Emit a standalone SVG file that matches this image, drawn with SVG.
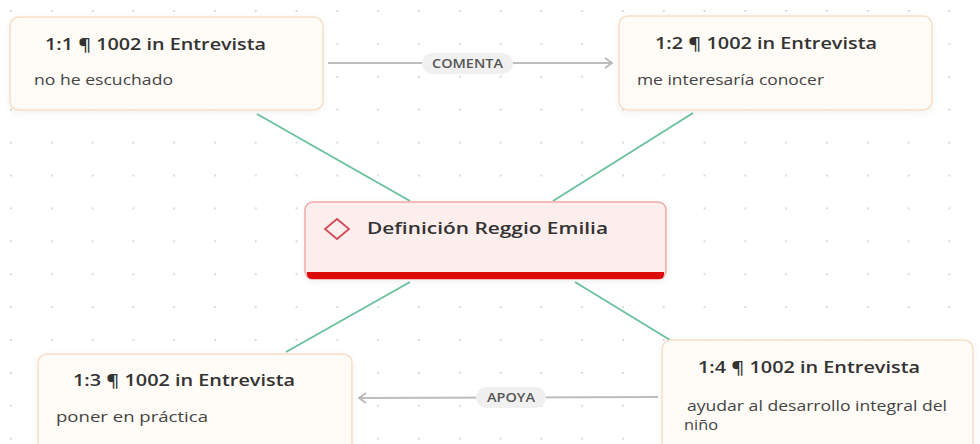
<svg xmlns="http://www.w3.org/2000/svg" width="980" height="444" viewBox="0 0 980 444">
<defs>
<pattern id="dots" x="10" y="10" width="40.8" height="32.9" patternUnits="userSpaceOnUse">
<circle cx="0.8" cy="0.8" r="1.3" fill="#d8d8d8"/>
</pattern>
<marker id="arr" markerWidth="12" markerHeight="12" refX="9" refY="6" orient="auto" markerUnits="userSpaceOnUse">
<path d="M2,1 L9,6 L2,11" fill="none" stroke="#b8b8b8" stroke-width="1.8"/>
</marker>
<filter id="sh" x="-10%" y="-20%" width="120%" height="150%">
<feDropShadow dx="0" dy="2" stdDeviation="3" flood-color="#000" flood-opacity="0.06"/>
</filter>
</defs>
<style>
.card{fill:#fffbf7;stroke:#f8dfc6;stroke-width:1.5;filter:url(#sh)}
.title{font-family:"Open Sans","Noto Sans",sans-serif;font-weight:600;font-size:17px;fill:#333}
.sub{font-family:"Open Sans","Noto Sans",sans-serif;font-size:14.5px;fill:#444}
.green{stroke:#6cc29c;stroke-width:2;fill:none}
.rel{stroke:#bdbdbd;stroke-width:2;fill:none}
.pill{fill:#f0f0f0}
.plabel{font-family:"Open Sans","Noto Sans",sans-serif;font-weight:600;font-size:12px;fill:#555}
</style>
<rect x="0" y="0" width="980" height="444" fill="#ffffff"/>
<rect x="0" y="0" width="980" height="444" fill="url(#dots)"/>
<g id="connectors">
<line class="green" x1="257" y1="114" x2="410" y2="201"/>
<line class="green" x1="693" y1="113" x2="553" y2="201"/>
<line class="green" x1="410" y1="282" x2="286" y2="352"/>
<line class="green" x1="575" y1="282" x2="670" y2="340"/>
<line class="rel" x1="328" y1="63" x2="612" y2="63" marker-end="url(#arr)"/>
<rect class="pill" x="422" y="53" width="91" height="21" rx="10.5"/>
<text class="plabel" x="432" y="67.5" textLength="71" lengthAdjust="spacingAndGlyphs">COMENTA</text>
<line class="rel" x1="658" y1="397" x2="359" y2="398" marker-end="url(#arr)"/>
<rect class="pill" x="476" y="387" width="70" height="21" rx="10.5"/>
<text class="plabel" x="487" y="401.5" textLength="48" lengthAdjust="spacingAndGlyphs">APOYA</text>
</g>
<g id="n1">
<rect class="card" x="10" y="17" width="313" height="93" rx="9"/>
<text class="title" x="45" y="50" textLength="221" lengthAdjust="spacingAndGlyphs">1:1 ¶ 1002 in Entrevista</text>
<text class="sub" x="34" y="85" textLength="139" lengthAdjust="spacingAndGlyphs">no he escuchado</text>
</g>
<g id="n2">
<rect class="card" x="619" y="16" width="313" height="94" rx="9"/>
<text class="title" x="655" y="49" textLength="222" lengthAdjust="spacingAndGlyphs">1:2 ¶ 1002 in Entrevista</text>
<text class="sub" x="637" y="85" textLength="187" lengthAdjust="spacingAndGlyphs">me interesaría conocer</text>
</g>
<g id="center">
<rect x="305" y="202" width="361" height="77" rx="8" fill="#fdeeee" stroke="#f2a8a8" stroke-width="1.5" filter="url(#sh)"/>
<path d="M307,272 H664 V274 Q664,279 659,279 H312 Q307,279 307,274 Z" fill="#dd0a0a"/>
<polygon points="337,219 349,229 337,239 325,229" fill="none" stroke="#d24a58" stroke-width="1.8"/>
<text class="title" x="367" y="234" font-size="17.5" textLength="241" lengthAdjust="spacingAndGlyphs">Definición Reggio Emilia</text>
</g>
<g id="n3">
<rect class="card" x="38" y="354" width="314" height="100" rx="9"/>
<text class="title" x="73" y="386" textLength="222" lengthAdjust="spacingAndGlyphs">1:3 ¶ 1002 in Entrevista</text>
<text class="sub" x="56" y="422" textLength="152" lengthAdjust="spacingAndGlyphs">poner en práctica</text>
</g>
<g id="n4">
<rect class="card" x="662" y="340" width="311" height="114" rx="9"/>
<text class="title" x="698" y="373" textLength="222" lengthAdjust="spacingAndGlyphs">1:4 ¶ 1002 in Entrevista</text>
<text class="sub" x="687" y="411" textLength="260" lengthAdjust="spacingAndGlyphs">ayudar al desarrollo integral del</text>
<text class="sub" x="684" y="430" textLength="34" lengthAdjust="spacingAndGlyphs">niño</text>
</g>
</svg>
